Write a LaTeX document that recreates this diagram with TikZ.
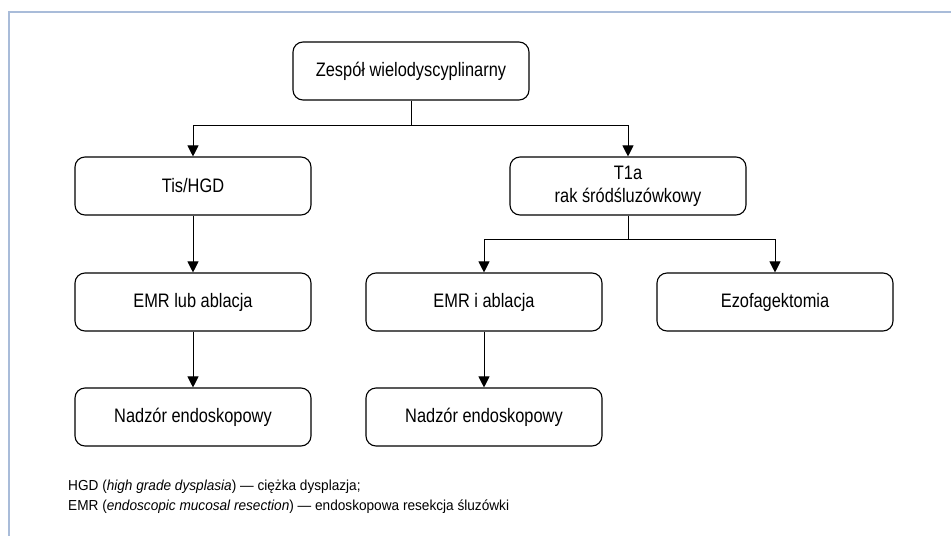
\documentclass[tikz,border=0pt]{standalone}
\usepackage{fontspec}
\setmainfont{Liberation Sans}
% narrow cuts of the sans face for the boxes and the footnote
\newfontfamily\boxfont{Liberation Sans}[FakeStretch=0.84]
\newfontfamily\notefont{Liberation Sans}[FakeStretch=0.94]
\usetikzlibrary{arrows.meta}
\definecolor{framecol}{HTML}{A9BCD9}
\begin{document}
\begin{tikzpicture}[x=1pt,y=-1pt,
  box/.style={draw, line width=1.1pt, rounded corners=10pt,
    minimum width=236pt, minimum height=58pt, inner sep=0pt,
    align=center, font=\boxfont\fontsize{19.5}{23}\selectfont},
  link/.style={line width=1pt, -{Triangle[length=11pt,width=11pt]}},
  legend/.style={anchor=base west, inner sep=0pt, font=\notefont\fontsize{14.5}{17}\selectfont}]
\useasboundingbox (0,0) rectangle (951,536);
% frame along the top and left edges
\draw[framecol, line width=1.4pt] (951,12) -- (9,12) -- (9,536);

% boxes
\node[box] (zes) at (411,71) {Zespół wielodyscyplinarny};
\node[box] (tis) at (193,186) {Tis/HGD};
\node[box] (t1a) at (628,186) {T1a\\rak śródśluzówkowy};
\node[box] (emrl) at (193,302) {EMR lub ablacja};
\node[box] (emri) at (484,302) {EMR i ablacja};
\node[box] (ezo) at (775,302) {Ezofagektomia};
\node[box] (nadl) at (193,417) {Nadzór endoskopowy};
\node[box] (nadr) at (484,417) {Nadzór endoskopowy};

% junction points of the branching connectors
\coordinate (j1) at (411,125);
\coordinate (j2) at (628,239);

% connectors
\draw[line width=1pt] (zes.south) -- (j1);
\draw[link] (j1) -| (tis.north);
\draw[link] (j1) -| (t1a.north);
\draw[line width=1pt] (t1a.south) -- (j2);
\draw[link] (j2) -| (emri.north);
\draw[link] (j2) -| (ezo.north);
\draw[link] (tis.south) -- (emrl.north);
\draw[link] (emrl.south) -- (nadl.north);
\draw[link] (emri.south) -- (nadr.north);

% abbreviations
\node[legend] (leg1) at (68,490.5) {HGD (\textit{high grade dysplasia}) — ciężka dysplazja;};
\node[legend] (leg2) at (68,510.5) {EMR (\textit{endoscopic mucosal resection}) — endoskopowa resekcja śluzówki};
\end{tikzpicture}
\end{document}
